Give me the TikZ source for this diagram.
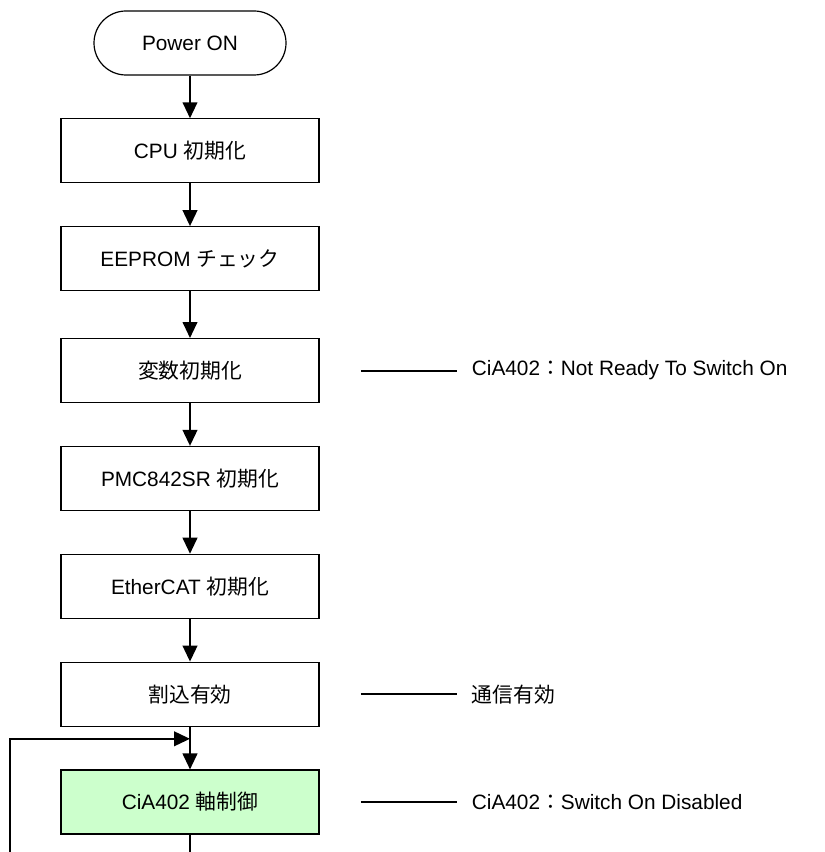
\documentclass[tikz,border=0pt]{standalone}
\usepackage{fontspec}
\setmainfont{Liberation Sans}
\newfontfamily\jp{Noto Sans CJK JP}
\usepackage{xcolor}
\usetikzlibrary{arrows.meta, positioning}
\definecolor{axisgreen}{HTML}{CCFFCC}

\begin{document}
\begin{tikzpicture}[
                x=0.75pt, y=-0.75pt,
                node distance=32pt,
                font=\fontsize{15.6}{18}\selectfont,
                startbox/.style={draw=black, line width=0.9pt, rectangle, rounded corners=24pt, minimum width=144pt, minimum height=48pt},
                stepbox/.style={draw=black, line width=0.9pt, rectangle, minimum width=193.5pt, minimum height=48pt, inner sep=0pt, fill=white},
                arrow/.style={-{Triangle[length=12pt, width=11pt]}, line width=1.5pt, draw=black},
                stub/.style={line width=1.4pt, draw=black},
                note/.style={inner sep=0pt}
            ]

\useasboundingbox (0,0) rectangle (824,852);

\node[startbox] (power) at (190,43) {Power ON};
            \node[stepbox, below=of power] (cpu) {CPU {\jp 初期化}};
            \node[stepbox, below=of cpu] (eeprom) {EEPROM {\jp チェック}};
            \node[stepbox, below=35pt of eeprom] (vars) {{\jp 変数初期化}};
            \node[stepbox, below=of vars] (pmc) {PMC842SR {\jp 初期化}};
            \node[stepbox, below=of pmc] (ecat) {EtherCAT {\jp 初期化}};
            \node[stepbox, below=of ecat] (irq) {{\jp 割込有効}};
            \node[stepbox, below=of irq, fill=axisgreen] (axis) {CiA402 {\jp 軸制御}};

% state notes on the right
\node[note, right=114pt of vars] (notready) {CiA402{\jp ：}Not Ready To Switch On};
            \node[note, right=114pt of irq] (comm) {{\jp 通信有効}};
            \node[note, right=114pt of axis] (swdis) {CiA402{\jp ：}Switch On Disabled};

\draw[stub] ([xshift=31pt]vars.east) -- ([xshift=-11pt]notready.west);
            \draw[stub] ([xshift=31pt]irq.east) -- ([xshift=-11pt]comm.west);
            \draw[stub] ([xshift=31pt]axis.east) -- ([xshift=-11pt]swdis.west);

\draw[arrow] (power) -- (cpu);
            \draw[arrow] (cpu) -- (eeprom);
            \draw[arrow] (eeprom) -- (vars);
            \draw[arrow] (vars) -- (pmc);
            \draw[arrow] (pmc) -- (ecat);
            \draw[arrow] (ecat) -- (irq);
            \draw[arrow] (irq) -- (axis);

% loop back into the axis control
\coordinate[below=9pt of irq.south] (merge);
            \coordinate (exit) at (190,852);
            \coordinate (back) at (10,852);
            \draw[line width=1.5pt] (axis) -- (exit);
            \draw[arrow] (back) -- (back |- merge) -- (merge);

            \end{tikzpicture}
\end{document}
